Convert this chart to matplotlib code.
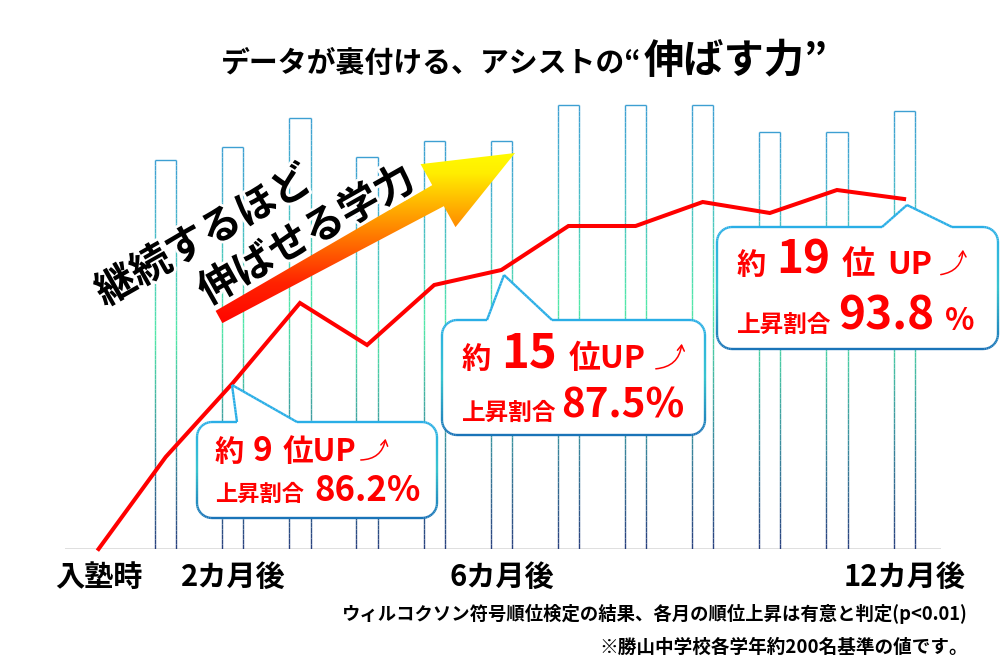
import numpy as np
import matplotlib.pyplot as plt
from matplotlib.collections import LineCollection
from matplotlib.colors import LinearSegmentedColormap
from matplotlib.patches import Polygon, FancyArrowPatch
import matplotlib.patheffects as pe

FONT = ['Noto Sans CJK JP', 'DejaVu Sans']
plt.rcParams['font.family'] = FONT

# data (pixel-ish units above the baseline)
line_months = list(range(0, 13))
line_vals = [0, 92, 166, 246, 204, 264, 279, 323, 323, 347, 336, 359, 350]
bar_months = list(range(1, 13))
bar_vals = [389, 402, 431, 392, 408, 408, 444, 444, 444, 417, 417, 438]
tick_months = [0, 2, 6, 12]
tick_labels = ['入塾時', '2カ月後', '6カ月後', '12カ月後']

RED = '#ff0000'
bar_cmap = LinearSegmentedColormap.from_list(
    'bars', [(0, '#3d9fd2'), (0.15, '#48b4cc'), (0.45, '#52e8a8'),
             (0.75, '#3a8c9e'), (1, '#29407e')])
box_cmap = LinearSegmentedColormap.from_list(
    'box', [(0, '#2aaee6'), (0.5, '#38c4cf'), (1, '#1a74b8')])

fig = plt.figure(figsize=(10, 6.71), dpi=100)
ax = fig.add_axes([65 / 1000, (671 - 549) / 671, (941 - 65) / 1000, (549 - 90) / 671])
ax.set_xlim(-0.5, 12.55)
ax.set_ylim(0, 459)
for s in ax.spines.values():
    s.set_visible(False)
ax.set_yticks([])

# hollow bars with a vertical gradient outline
w = 0.315
n = 80
segs, cols = [], []
for m, h in zip(bar_months, bar_vals):
    ys = np.linspace(0, h, n + 1)
    for xe in (m - w / 2, m + w / 2):
        for i in range(n):
            segs.append([(xe, ys[i]), (xe, ys[i + 1])])
            cols.append(bar_cmap(1 - (ys[i] + ys[i + 1]) / 2 / h))
    segs.append([(m - w / 2, h), (m + w / 2, h)])
    cols.append(bar_cmap(0.0))
ax.add_collection(LineCollection(segs, colors=cols, linewidths=1.0, zorder=2))

ax.axhline(0, color='#dcdcdc', lw=2, zorder=1)
ax.plot(line_months, line_vals, color=RED, lw=2.9, zorder=3, clip_on=False,
        solid_joinstyle='miter')

ax.set_xticks(tick_months)
ax.set_xticklabels(tick_labels, fontsize=21, fontweight='bold')
ax.tick_params(axis='x', length=0, pad=9)

# overlay in pixel coordinates for the decorations
ov = fig.add_axes([0, 0, 1, 1], zorder=5)
ov.set_xlim(0, 1000)
ov.set_ylim(671, 0)
ov.axis('off')
ov.patch.set_alpha(0)

# title
ov.text(642, 72, 'データが裏付ける、アシストの“', fontsize=20.8, fontweight='bold',
        ha='right', va='baseline')
ov.text(644, 73, '伸ばす力”', fontsize=29, fontweight='bold', ha='left', va='baseline')

# gradient arrow
T = np.array([219.0, 317.0])
P = np.array([515.0, 153.0])
u = (P - T) / np.linalg.norm(P - T)
nrm = np.array([-u[1], u[0]])
if nrm[1] < 0:
    nrm = -nrm
B = P - 88 * u
arrow_pts = [T - 7 * nrm, B - 12 * nrm, B - 36 * nrm, P, B + 36 * nrm, B + 12 * nrm, T + 7 * nrm]
arrow_poly = Polygon(arrow_pts, closed=True, facecolor='none', edgecolor='none')
ov.add_patch(arrow_poly)
arr_cmap = LinearSegmentedColormap.from_list(
    'arr', [(0, '#ffff00'), (0.15, '#ffee00'), (0.45, '#ff8800'), (0.75, '#ff2200'), (1, '#ff0000')])
grad = np.linspace(0, 1, 256).reshape(-1, 1)
im = ov.imshow(grad, cmap=arr_cmap, extent=(200, 530, 330, 145), aspect='auto',
               interpolation='bilinear', zorder=4)
im.set_clip_path(arrow_poly)
ov.set_xlim(0, 1000)
ov.set_ylim(671, 0)

halo = [pe.withStroke(linewidth=4, foreground='white')]
ov.text(204, 237, '継続するほど', fontsize=29, fontweight='bold', rotation=29.5,
        rotation_mode='anchor', ha='center', va='center', path_effects=halo, zorder=5)
ov.text(307, 236, '伸ばせる学力', fontsize=29, fontweight='bold', rotation=29.5,
        rotation_mode='anchor', ha='center', va='center', path_effects=halo, zorder=5)


def callout(x0, y0, x1, y1, bl, br, tip, r=15):
    pts = [(x0 + r, y0), (bl, y0), tip, (br, y0), (x1 - r, y0)]
    for cx, cy, a0, a1 in [(x1 - r, y0 + r, -90, 0), (x1 - r, y1 - r, 0, 90),
                           (x0 + r, y1 - r, 90, 180), (x0 + r, y0 + r, 180, 270)]:
        th = np.radians(np.linspace(a0, a1, 14))
        pts += list(zip(cx + r * np.cos(th), cy + r * np.sin(th)))
    pts.append(pts[0])
    pts = np.array(pts)
    ov.add_patch(Polygon(pts, closed=True, facecolor='white', edgecolor='none', zorder=6))
    segs, cols = [], []
    for a, b in zip(pts[:-1], pts[1:]):
        k = max(1, int(np.hypot(*(b - a)) / 3))
        for i in range(k):
            p0 = a + (b - a) * i / k
            p1 = a + (b - a) * (i + 1) / k
            segs.append([p0, p1])
            f = ((p0[1] + p1[1]) / 2 - y0) / (y1 - y0)
            cols.append(box_cmap(min(max(f, 0), 1)))
    ov.add_collection(LineCollection(segs, colors=cols, linewidths=1.7, zorder=7))


def red(x, y, s, size):
    ov.text(x, y, s, fontsize=size, fontweight='bold', color=RED, ha='left',
            va='baseline', zorder=8)


def up_arrow(p0, p1):
    ov.add_patch(FancyArrowPatch(p0, p1, connectionstyle='arc3,rad=0.45',
                                 arrowstyle='->,head_length=4,head_width=2.5',
                                 color=RED, lw=1.1, zorder=8))


callout(197, 422, 437, 518, 237, 297, (232, 385))
red(215, 461, '約', 21)
red(253, 461, '9', 24)
red(283, 461, '位UP', 22)
up_arrow((358, 460), (386, 436))
red(215, 501, '上昇割合', 16)
red(314, 501, '86.2%', 25)

callout(442, 320, 705, 435, 487, 552, (504, 275))
red(462, 368, '約', 21)
red(501, 368, '15', 34)
red(569, 368, '位UP', 23)
up_arrow((653, 369), (682, 341))
red(462, 420, '上昇割合', 17)
red(561, 418, '87.5%', 29)

callout(717, 227, 998, 349, 882, 952, (907, 205))
red(737, 274, '約', 21)
red(776, 274, '19', 33)
red(842, 274, '位', 24)
red(887, 274, 'UP', 23)
up_arrow((938, 275), (963, 247))
red(737, 332, '上昇割合', 17)
red(838, 330, '93.8', 33)
red(945, 330, '%', 22)

# footnotes
ov.text(968, 620, 'ウィルコクソン符号順位検定の結果、各月の順位上昇は有意と判定(p<0.01)',
        fontsize=13.2, fontweight='bold', ha='right', va='baseline')
ov.text(968, 653, '※勝山中学校各学年約200名基準の値です。',
        fontsize=13.4, fontweight='bold', ha='right', va='baseline')

fig.savefig('out.png', dpi=100)
